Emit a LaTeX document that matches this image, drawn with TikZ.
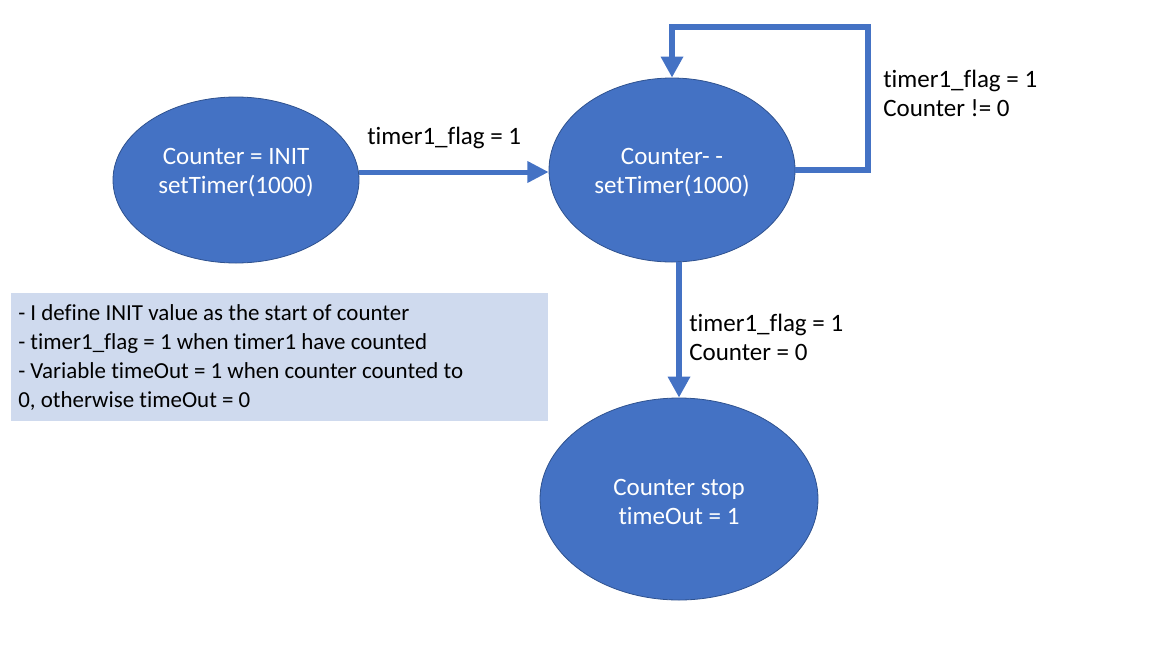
\documentclass[tikz,border=0pt]{standalone}
\usepackage{fontspec}
\setmainfont{Carlito}[Ligatures=NoCommon]
\usetikzlibrary{shapes.geometric,arrows.meta}
\definecolor{accent}{HTML}{4472C4}
\definecolor{accentdark}{HTML}{2F528F}
\definecolor{notebg}{HTML}{CFDAEE}
\tikzset{
  statenode/.style={ellipse, fill=accent, draw=accentdark, line width=0.6pt, inner sep=0pt},
  statetext/.style={text=white, align=center, inner sep=0pt, font=\fontsize{18.75}{21.75}\selectfont},
  lbl/.style={text=black, align=left, anchor=west, inner sep=0pt, font=\fontsize{18.75}{21.75}\selectfont},
  notefont/.style={text=black, align=left, anchor=west, inner sep=0pt, font=\fontsize{17.2}{21.75}\selectfont},
  conn/.style={draw=accent, line width=4.5pt, -{Triangle[length=15.75pt,width=16pt]}},
  connthin/.style={draw=accent, line width=3.75pt, -{Triangle[length=16pt,width=15.5pt]}}
}
\begin{document}
\begin{tikzpicture}[x=0.75pt,y=-0.75pt]
\useasboundingbox (0,0) rectangle (1152,657);
% states
\node[statenode, minimum width=184.5pt, minimum height=124.5pt] (s1) at (236,180) {};
\node[statetext] (t1) at (236,172.5) {Counter = INIT\\setTimer(1000)};
\node[statenode, minimum width=184.5pt, minimum height=138pt] (s2) at (672,170) {};
\node[statetext] (t2) at (672,172.5) {Counter- -\\setTimer(1000)};
\node[statenode, minimum width=208.5pt, minimum height=151.5pt] (s3) at (679,499) {};
\node[statetext] (t3) at (679,502) {Counter stop\\timeOut = 1};
% note
\node[fill=notebg, minimum width=402.75pt, minimum height=96pt, inner sep=0pt] (note) at (279.5,357) {};
\node[notefont] (notetext) at (18,357) {- I define INIT value as the start of counter\\- timer1\_flag = 1 when timer1 have counted\\- Variable timeOut = 1 when counter counted to\\0, otherwise timeOut = 0};
% connectors
\draw[connthin] (s1.east |- 0,172) coordinate (a1) -- (s2.west |- 0,172) coordinate (a2);
\node[lbl] (l1) at (367,138) {timer1\_flag = 1};
\coordinate (c1) at (868,170);
\coordinate (c2) at (868,27);
\coordinate (c3) at (672,27);
\draw[conn, line join=miter] (s2.east) -- (c1) -- (c2) -- (c3) -- (s2.north);
\node[lbl] (l2) at (883,93) {timer1\_flag = 1\\Counter != 0};
\draw[conn] (s2.south -| 679,0) -- (s3.north);
\node[lbl] (l3) at (689,337) {timer1\_flag = 1\\Counter = 0};
\end{tikzpicture}
\end{document}
